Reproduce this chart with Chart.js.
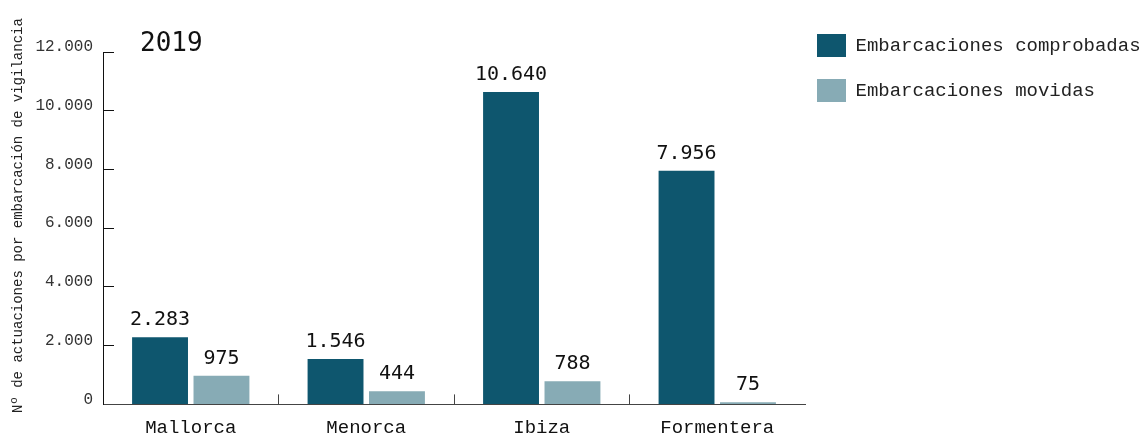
<!DOCTYPE html>
<html lang="es">
<head>
<meta charset="utf-8">
<title>Embarcaciones 2019</title>
<script src="https://cdn.jsdelivr.net/npm/chart.js@4.4.1/dist/chart.umd.min.js"></script>
<style>
  html, body { margin: 0; padding: 0; background: #fff; }
  #wrap { width: 1146px; height: 435px; position: relative; }
</style>
</head>
<body>
<div id="wrap"><canvas id="actuaciones"></canvas></div>
<script>
let islas = ['Mallorca', 'Menorca', 'Ibiza', 'Formentera'];
let comprobadas = [2283, 1546, 10640, 7956];
let movidas = [975, 444, 788, 75];
let yTicks = [0, 2000, 4000, 6000, 8000, 10000, 12000];
let year = '2019';
let yTitle = '   Nº de actuaciones por embarcación de vigilancia';

let mono = '"Liberation Mono", monospace';
let dark = '#0e566e';
let light = '#87abb5';

// 12000 -> 12.000
function fmt(v) {
    return String(v).replace(/\B(?=(\d{3})+(?!\d))/g, '.');
}

let valueLabels = {
    id: 'valueLabels',
    afterDatasetsDraw(chart) {
        let ctx = chart.ctx;
        ctx.save();
        ctx.font = '20px "DejaVu Sans Mono", monospace';
        ctx.fillStyle = '#111';
        ctx.textAlign = 'center';
        ctx.textBaseline = 'alphabetic';
        chart.data.datasets.forEach((ds, i) => {
            chart.getDatasetMeta(i).data.forEach((bar, j) => {
                ctx.fillText(fmt(ds.data[j]), bar.x, bar.y - 12);
            });
        });
        ctx.restore();
    }
};

// move legend + year label where the original has them
let nudge = {
    id: 'nudge',
    afterLayout(chart) {
        let lg = chart.legend;
        lg.left = 795;
        lg.right = 1146;
        lg.top = 12;
        chart.titleBlock.left = 140;
    }
};

let ctx = document.getElementById('actuaciones').getContext('2d');

new Chart(ctx, {
    type: 'bar',
    data: {
        labels: islas,
        datasets: [{
            label: 'Embarcaciones comprobadas',
            data: comprobadas,
            backgroundColor: dark
        }, {
            label: 'Embarcaciones movidas',
            data: movidas,
            backgroundColor: light
        }]
    },
    options: {
        responsive: true,
        maintainAspectRatio: false,
        animation: false,
        categoryPercentage: 0.7,
        barPercentage: 0.91,
        layout: { padding: { top: 0, left: 0, right: 0, bottom: 0 } },
        plugins: {
            tooltip: { enabled: false },
            title: {
                display: true,
                text: year,
                align: 'start',
                color: '#111',
                font: { family: '"DejaVu Sans Mono", monospace', size: 26, weight: 'normal', lineHeight: '15px' },
                padding: { top: 37, bottom: 0 }
            },
            legend: {
                position: 'right',
                align: 'start',
                maxWidth: 341,
                labels: {
                    boxWidth: 29,
                    boxHeight: 23,
                    padding: 22,
                    color: '#222',
                    font: { family: mono, size: 19 }
                }
            }
        },
        scales: {
            x: {
                afterFit: axis => { axis.height = 30; },
                grid: {
                    drawOnChartArea: false,
                    tickLength: -10,
                    tickColor: c => (c.type === 'tick' ? '#444' : 'rgba(0,0,0,0)')
                },
                border: { color: '#444', width: 1 },
                ticks: {
                    color: '#111',
                    padding: 24,
                    font: { family: mono, size: 19, lineHeight: 1 }
                }
            },
            y: {
                min: 0,
                max: 12000,
                afterBuildTicks: axis => { axis.ticks = yTicks.map(v => ({ value: v })); },
                afterFit: axis => { axis.width = 103; },
                grid: {
                    drawOnChartArea: false,
                    tickLength: -11,
                    tickColor: '#111'
                },
                border: { color: '#111', width: 1 },
                ticks: {
                    color: '#333',
                    padding: 21,
                    labelOffset: -5,
                    font: { family: mono, size: 16 },
                    callback: v => fmt(v)
                },
                title: {
                    display: true,
                    text: yTitle,
                    color: '#222',
                    font: { family: mono, size: 14 },
                    padding: { top: 10, bottom: 0 }
                }
            }
        }
    },
    plugins: [valueLabels, nudge]
});
</script>
</body>
</html>
